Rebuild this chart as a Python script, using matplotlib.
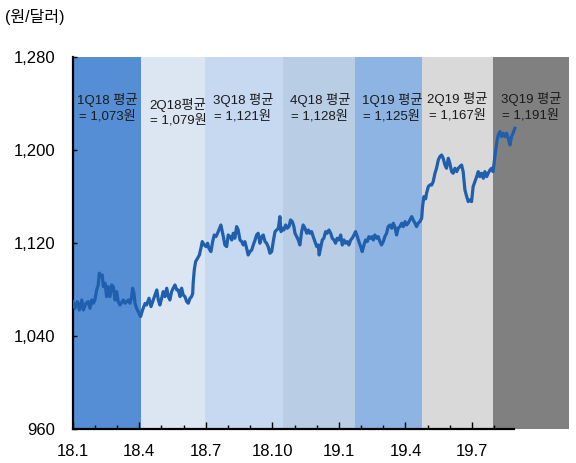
import matplotlib.pyplot as plt
from matplotlib.ticker import MultipleLocator, FixedLocator, FuncFormatter

plt.rcParams['font.family'] = ['Liberation Sans', 'Noto Sans CJK KR', 'DejaVu Sans']

# quarter shading and averages
quarters = ['1Q18 평균', '2Q18평균', '3Q18 평균', '4Q18 평균', '1Q19 평균', '2Q19 평균', '3Q19 평균']
quarter_avg = ['1,073', '1,079', '1,121', '1,128', '1,125', '1,167', '1,191']
quarter_edges = [0, 3.06, 5.96, 9.46, 12.72, 15.73, 18.93, 22.37]
quarter_colors = ['#558ED5', '#DCE6F2', '#C6D9F1', '#B9CDE5', '#8EB4E3', '#D9D9D9', '#808080']
label_x = [1.57, 4.75, 7.67, 11.14, 14.39, 17.32, 20.65]
label_y = [1236, 1232.5, 1236, 1236, 1236, 1237, 1237]

tick_labels = ['18.1', '18.4', '18.7', '18.10', '19.1', '19.4', '19.7']

# months since 2018.1, KRW per USD
month = [
    0.00, 0.10, 0.21, 0.30, 0.41, 0.48, 0.60, 0.70, 0.78, 0.86, 0.93, 1.00, 1.08, 1.15, 1.20, 1.28,
    1.33, 1.38, 1.46, 1.53, 1.60, 1.68, 1.76, 1.83, 1.91, 1.98, 2.05, 2.13, 2.28, 2.36, 2.51, 2.58,
    2.66, 2.70, 2.76, 2.81, 2.88, 2.99, 3.06, 3.15, 3.26, 3.33, 3.44, 3.53, 3.63, 3.71, 3.79, 3.86,
    3.93, 4.01, 4.08, 4.16, 4.24, 4.31, 4.38, 4.46, 4.53, 4.61, 4.69, 4.76, 4.84, 4.91, 4.98, 5.06,
    5.14, 5.21, 5.29, 5.36, 5.41, 5.43, 5.48, 5.54, 5.63, 5.71, 5.78, 5.84, 5.93, 6.01, 6.08, 6.14,
    6.23, 6.31, 6.38, 6.46, 6.53, 6.59, 6.68, 6.79, 6.86, 6.94, 7.01, 7.09, 7.17, 7.24, 7.31, 7.39,
    7.46, 7.54, 7.62, 7.69, 7.76, 7.84, 7.91, 7.99, 8.07, 8.14, 8.22, 8.29, 8.36, 8.44, 8.52, 8.59,
    8.67, 8.74, 8.81, 8.89, 8.97, 9.04, 9.12, 9.19, 9.27, 9.34, 9.39, 9.46, 9.52, 9.60, 9.67, 9.75,
    9.82, 9.90, 9.97, 10.02, 10.17, 10.24, 10.32, 10.39, 10.47, 10.55, 10.62, 10.69, 10.77, 10.84,
    10.92, 11.00, 11.07, 11.11, 11.19, 11.25, 11.32, 11.40, 11.47, 11.55, 11.63, 11.70, 11.78,
    11.85, 11.92, 12.00, 12.08, 12.15, 12.23, 12.30, 12.38, 12.45, 12.53, 12.60, 12.68, 12.75,
    12.83, 12.90, 12.98, 13.05, 13.13, 13.20, 13.28, 13.35, 13.43, 13.50, 13.55, 13.62, 13.70,
    13.77, 13.85, 13.92, 14.00, 14.07, 14.15, 14.22, 14.30, 14.38, 14.45, 14.52, 14.60, 14.67,
    14.75, 14.83, 14.90, 14.98, 15.05, 15.12, 15.20, 15.28, 15.35, 15.43, 15.50, 15.57, 15.65,
    15.73, 15.77, 15.83, 15.91, 15.95, 16.03, 16.10, 16.18, 16.25, 16.33, 16.40, 16.48, 16.55,
    16.63, 16.70, 16.78, 16.85, 16.93, 17.00, 17.08, 17.15, 17.23, 17.31, 17.38, 17.45, 17.53,
    17.60, 17.68, 17.76, 17.83, 17.90, 17.98, 18.05, 18.13, 18.21, 18.28, 18.35, 18.43, 18.51,
    18.58, 18.66, 18.73, 18.81, 18.88, 18.95, 19.03, 19.11, 19.18, 19.26, 19.33, 19.41, 19.48,
    19.56, 19.63, 19.71, 19.78, 19.85, 19.93,
]
krw = [
    1069.6, 1063.9, 1069.6, 1062.4, 1071.0, 1062.4, 1068.2, 1069.6, 1063.9, 1071.0, 1068.2, 1071.0,
    1079.6, 1083.9, 1094.0, 1091.1, 1092.5, 1082.5, 1085.4, 1073.9, 1082.5, 1073.9, 1083.9, 1082.5,
    1071.0, 1078.2, 1069.6, 1066.7, 1071.0, 1068.2, 1071.0, 1068.2, 1073.9, 1081.1, 1076.8, 1068.2,
    1063.9, 1059.6, 1056.7, 1062.4, 1068.0, 1066.7, 1072.5, 1065.3, 1071.0, 1075.3, 1079.6, 1071.0,
    1066.7, 1072.5, 1078.2, 1073.9, 1081.1, 1073.9, 1071.0, 1078.2, 1081.1, 1083.9, 1079.6, 1079.6,
    1073.9, 1081.1, 1075.3, 1073.9, 1069.6, 1068.2, 1072.5, 1073.9, 1076.8, 1085.4, 1096.8, 1104.0,
    1106.9, 1109.7, 1115.5, 1121.2, 1118.3, 1116.9, 1119.8, 1115.5, 1112.6, 1121.2, 1126.9, 1125.5,
    1128.4, 1131.2, 1135.5, 1125.5, 1118.3, 1116.9, 1126.9, 1125.5, 1122.6, 1128.4, 1124.1, 1134.1,
    1131.2, 1122.6, 1121.2, 1118.3, 1121.2, 1115.5, 1109.7, 1112.6, 1114.0, 1118.3, 1122.6, 1126.9,
    1128.4, 1119.8, 1125.5, 1126.9, 1121.2, 1119.8, 1116.9, 1111.2, 1112.6, 1121.2, 1129.8, 1131.2,
    1132.7, 1142.7, 1129.8, 1132.7, 1131.2, 1135.5, 1132.7, 1134.1, 1139.8, 1138.4, 1134.1, 1128.4,
    1122.6, 1118.3, 1129.8, 1135.5, 1132.7, 1128.4, 1131.2, 1128.4, 1129.8, 1125.5, 1121.2, 1116.9,
    1118.3, 1109.7, 1116.9, 1122.6, 1124.1, 1129.8, 1128.4, 1131.2, 1128.4, 1124.1, 1122.6, 1119.8,
    1124.1, 1122.6, 1126.9, 1118.3, 1122.6, 1119.8, 1121.2, 1118.3, 1122.6, 1124.1, 1126.9, 1129.8,
    1125.5, 1121.2, 1116.9, 1112.6, 1118.3, 1122.6, 1121.2, 1125.5, 1124.1, 1125.5, 1122.6, 1126.9,
    1124.1, 1125.5, 1121.2, 1118.3, 1121.2, 1125.5, 1128.4, 1134.1, 1135.5, 1132.7, 1137.0, 1134.1,
    1126.9, 1132.7, 1134.1, 1137.0, 1134.1, 1138.4, 1135.5, 1137.0, 1139.8, 1142.7, 1139.8, 1137.0,
    1134.1, 1137.0, 1138.4, 1141.3, 1151.3, 1159.9, 1158.0, 1162.8, 1168.5, 1169.9, 1169.9, 1172.8,
    1180.0, 1184.3, 1191.4, 1194.3, 1195.7, 1192.9, 1187.1, 1184.3, 1192.9, 1188.6, 1181.4, 1180.0,
    1184.3, 1181.4, 1184.3, 1185.7, 1187.1, 1181.4, 1165.6, 1159.9, 1155.6, 1157.0, 1155.6, 1168.5,
    1172.8, 1177.1, 1181.4, 1177.1, 1180.0, 1175.7, 1181.4, 1177.1, 1180.0, 1182.8, 1184.3, 1181.4,
    1194.3, 1205.8, 1212.9, 1215.8, 1211.5, 1214.4, 1211.5, 1214.4, 1210.1, 1204.3, 1211.5, 1214.4,
    1218.7,
]

fig = plt.figure(figsize=(5.76, 4.63), dpi=100)
ax = fig.add_axes([0.1262, 0.0734, 0.8616, 0.8035])

for i in range(len(quarters)):
    ax.axvspan(quarter_edges[i], quarter_edges[i + 1], color=quarter_colors[i], lw=0, zorder=0)
    ax.text(label_x[i], label_y[i], quarters[i] + '\n= ' + quarter_avg[i] + '원',
            ha='center', va='center', fontsize=9.5, color='#1a1a1a', linespacing=1.3)

ax.plot(month, krw, color='#1F5FAD', lw=2.3, zorder=3)

ax.set_xlim(quarter_edges[0], quarter_edges[-1])
ax.set_ylim(960, 1280)

ax.spines['top'].set_visible(False)
ax.spines['right'].set_visible(False)
for s in ['left', 'bottom']:
    ax.spines[s].set_linewidth(1.6)
    ax.spines[s].set_color('black')
ax.spines['bottom'].set_bounds(0, 19.87)

ax.set_xticks(range(0, 19, 3))
ax.set_xticklabels(tick_labels)
ax.xaxis.set_minor_locator(FixedLocator([m for m in range(1, 20) if m % 3 != 0]))
ax.yaxis.set_major_locator(MultipleLocator(80))
ax.yaxis.set_major_formatter(FuncFormatter(lambda v, p: f'{int(v):,}'))

ax.tick_params(axis='x', which='major', direction='in', length=5, width=1, pad=11, labelsize=12)
ax.tick_params(axis='x', which='minor', direction='in', length=3, width=1)
ax.tick_params(axis='y', direction='in', length=3, width=1, pad=12.5, labelsize=12)

fig.text(5 / 576, 0.963, '(원/달러)', fontsize=11.5, va='center', ha='left')

fig.savefig('out.png', dpi=100)
